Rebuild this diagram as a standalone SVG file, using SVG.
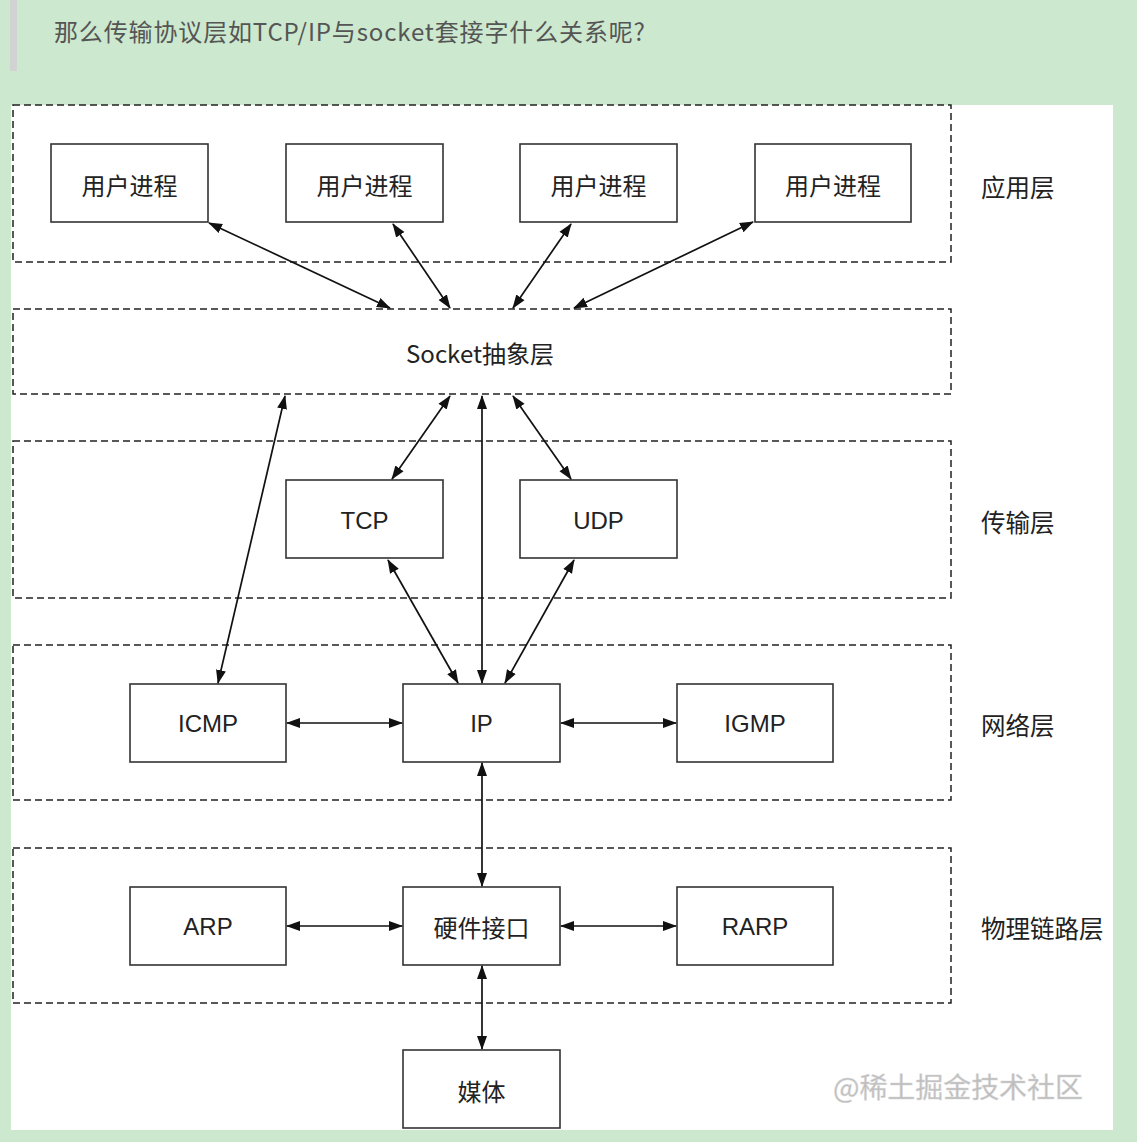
<svg xmlns="http://www.w3.org/2000/svg" width="1137" height="1142" viewBox="0 0 1137 1142">
<style>
.box{fill:#fff;stroke:#333;stroke-width:1.6}
.layer{fill:none;stroke:#222;stroke-width:1.5;stroke-dasharray:7 4}
.lbl{font-family:"Liberation Sans","Noto Sans CJK SC",sans-serif;font-size:24px;fill:#222;text-anchor:middle;dominant-baseline:central}
.cjk{font-family:"Noto Sans CJK SC",sans-serif;font-size:24px;fill:#222;text-anchor:middle;dominant-baseline:central}
.side{font-family:"Noto Sans CJK SC",sans-serif;font-size:24.5px;fill:#222;dominant-baseline:central}
.conn line{stroke:#111;stroke-width:1.7;marker-start:url(#ah);marker-end:url(#ah)}
</style>
<defs>
<marker id="ah" markerUnits="userSpaceOnUse" markerWidth="14" markerHeight="12" refX="13" refY="5" orient="auto-start-reverse" viewBox="0 0 14 10">
<path d="M0,0 L14,5 L0,10 z" fill="#111"/>
</marker>
</defs>
<rect x="0" y="0" width="1137" height="1142" fill="#cce8ce"/>
<rect x="10" y="0" width="7" height="71" fill="#d2d2d2"/>
<text x="54" y="41" font-family="'Noto Sans CJK SC',sans-serif" font-size="24" fill="#555" textLength="591" lengthAdjust="spacing">那么传输协议层如TCP/IP与socket套接字什么关系呢?</text>
<rect x="11" y="105" width="1102" height="1025" fill="#fff"/>

<g id="layers">
<rect class="layer" x="13" y="105" width="938" height="157"/>
<rect class="layer" x="13" y="309" width="938" height="85"/>
<rect class="layer" x="13" y="441" width="938" height="157"/>
<rect class="layer" x="13" y="645" width="938" height="155"/>
<rect class="layer" x="13" y="848" width="938" height="155"/>
</g>

<g id="labels">
<text class="side" x="981" y="186">应用层</text>
<text class="cjk" x="480" y="352" font-size="25">Socket抽象层</text>
<text class="side" x="981" y="521">传输层</text>
<text class="side" x="981" y="724">网络层</text>
<text class="side" x="981" y="927">物理链路层</text>
</g>

<g id="user1"><rect class="box" x="51" y="144" width="157" height="78"/><text class="cjk" x="129.5" y="184">用户进程</text></g>
<g id="user2"><rect class="box" x="286" y="144" width="157" height="78"/><text class="cjk" x="364.5" y="184">用户进程</text></g>
<g id="user3"><rect class="box" x="520" y="144" width="157" height="78"/><text class="cjk" x="598.5" y="184">用户进程</text></g>
<g id="user4"><rect class="box" x="755" y="144" width="156" height="78"/><text class="cjk" x="833" y="184">用户进程</text></g>

<g id="tcp"><rect class="box" x="286" y="480" width="157" height="78"/><text class="lbl" x="364.5" y="520">TCP</text></g>
<g id="udp"><rect class="box" x="520" y="480" width="157" height="78"/><text class="lbl" x="598.5" y="520">UDP</text></g>

<g id="icmp"><rect class="box" x="130" y="684" width="156" height="78"/><text class="lbl" x="208" y="723">ICMP</text></g>
<g id="ip"><rect class="box" x="403" y="684" width="157" height="78"/><text class="lbl" x="481.5" y="723">IP</text></g>
<g id="igmp"><rect class="box" x="677" y="684" width="156" height="78"/><text class="lbl" x="755" y="723">IGMP</text></g>

<g id="arp"><rect class="box" x="130" y="887" width="156" height="78"/><text class="lbl" x="208" y="926">ARP</text></g>
<g id="hw"><rect class="box" x="403" y="887" width="157" height="78"/><text class="cjk" x="481.5" y="926">硬件接口</text></g>
<g id="rarp"><rect class="box" x="677" y="887" width="156" height="78"/><text class="lbl" x="755" y="926">RARP</text></g>

<g id="media"><rect class="box" x="403" y="1050" width="157" height="78"/><text class="cjk" x="481.5" y="1090">媒体</text></g>

<g id="connectors" class="conn">
<line x1="209" y1="223" x2="390" y2="308"/>
<line x1="393" y1="224" x2="450" y2="308"/>
<line x1="571" y1="224" x2="513" y2="308"/>
<line x1="753" y1="222" x2="574" y2="308"/>
<line x1="285" y1="396" x2="218" y2="683"/>
<line x1="450" y1="396" x2="392" y2="479"/>
<line x1="482" y1="396" x2="482" y2="683"/>
<line x1="513" y1="396" x2="571" y2="479"/>
<line x1="388" y1="560" x2="458" y2="683"/>
<line x1="574" y1="560" x2="505" y2="683"/>
<line x1="287" y1="723" x2="402" y2="723"/>
<line x1="561" y1="723" x2="676" y2="723"/>
<line x1="482" y1="763" x2="482" y2="886"/>
<line x1="287" y1="926" x2="402" y2="926"/>
<line x1="561" y1="926" x2="676" y2="926"/>
<line x1="482" y1="966" x2="482" y2="1049"/>
</g>

<text x="833" y="1086" font-family="'Noto Sans CJK SC',sans-serif" font-size="28" fill="#bdbdbd" stroke="#d8d8d8" stroke-width="0.5" dominant-baseline="central" textLength="250" lengthAdjust="spacing">@稀土掘金技术社区</text>
</svg>
